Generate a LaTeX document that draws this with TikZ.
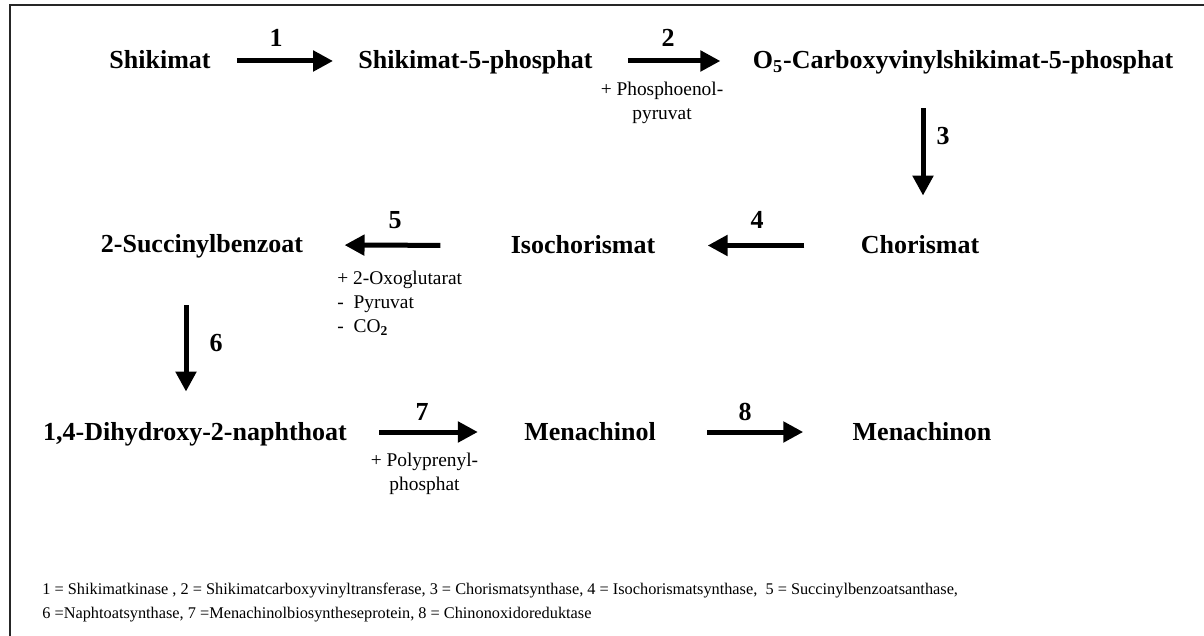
\documentclass[tikz,border=0pt]{standalone}
\usepackage{fontspec}
\setmainfont{Liberation Serif}
\usetikzlibrary{arrows.meta}
\begin{document}
\begin{tikzpicture}[x=0.5pt,y=-0.5pt,
  chem/.style={font=\fontsize{13}{15.6}\selectfont\bfseries, inner sep=0pt,
               text height=10pt, text depth=2pt, anchor=base},
  num/.style={font=\fontsize{13}{15.6}\selectfont\bfseries, inner sep=0pt, anchor=base},
  note/.style={font=\fontsize{9.7}{12}\selectfont, inner sep=0pt, align=center, anchor=base},
  notel/.style={font=\fontsize{9.7}{12}\selectfont, inner sep=0pt, align=left, anchor=base west},
  legend/.style={font=\fontsize{8.15}{12}\selectfont, inner sep=0pt, align=left, anchor=base west},
  rxn/.style={line width=2.5pt, -{Triangle[length=10pt,width=10pt]}},
  frame/.style={line width=1pt, draw=black!85},
]
\useasboundingbox (0,0) rectangle (1204,636);
\draw[frame] (1210,5) -- (10,5) -- (10,640);

% compounds
\node[chem] (shik)  at (160,69)    {Shikimat};
\node[chem] (s5p)   at (475.5,69)  {Shikimat-5-phosphat};
\node[chem] (cvs)   at (963,69)    {O\textsubscript{5}-Carboxyvinylshikimat-5-phosphat};
\node[chem] (chor)  at (920,253.5) {Chorismat};
\node[chem] (iso)   at (583,253.5) {Isochorismat};
\node[chem] (succ)  at (202,253)   {2-Succinylbenzoat};
\node[chem] (dhna)  at (195,440)   {1,4-Dihydroxy-2-naphthoat};
\node[chem] (mnol)  at (590,440)   {Menachinol};
\node[chem] (mnon)  at (922,440)   {Menachinon};

% reactions
\draw[rxn, shorten <=13pt, shorten >=12.5pt] (shik.east) -- (s5p.west);
\draw[rxn, shorten <=17.5pt, shorten >=16pt] (s5p.east) -- (cvs.west);
\draw[rxn, shorten <=17.5pt, shorten >=18.75pt] ([xshift=1.5pt]chor.north |- cvs.south) -- ([xshift=1.5pt]chor.north);
\draw[rxn, shorten <=28pt, shorten >=26pt] (chor.west) -- (iso.east);
\draw[rxn, shorten <=35pt, shorten >=20.5pt] (iso.west) -- (succ.east);
\draw[rxn, shorten <=24pt, shorten >=14pt] ([xshift=-8pt]succ.south) -- ([xshift=-8pt]succ.south |- dhna.north);
\draw[rxn, shorten <=16pt, shorten >=23pt] (dhna.east) -- (mnol.west);
\draw[rxn, shorten <=25.5pt, shorten >=24.5pt] (mnol.east) -- (mnon.west);

% step numbers
\node[num] (n1) at (276,47)  {1};
\node[num] (n2) at (668,47)  {2};
\node[num] (n3) at (943,145) {3};
\node[num] (n4) at (757,228) {4};
\node[num] (n5) at (395,228) {5};
\node[num] (n6) at (216,351) {6};
\node[num] (n7) at (422,420) {7};
\node[num] (n8) at (745,420) {8};

% co-substrates (base anchor = baseline of the last line)
\node[note] (pep) at (662,120) {+ Phosphoenol-\\pyruvat};
\node[notel] (oxo) at (337,332) {+ 2-Oxoglutarat\\-\ \ Pyruvat\\-\ \ CO\textsubscript{\textbf{2}}};
\node[note] (ppp) at (424.5,490) {+ Polyprenyl-\\phosphat};

% legend
\node[legend] (leg) at (42,618) {1 = Shikimatkinase , 2 = Shikimatcarboxyvinyltransferase, 3 = Chorismatsynthase, 4 = Isochorismatsynthase,\ \ 5 = Succinylbenzoatsanthase,\\6 =Naphtoatsynthase, 7 =Menachinolbiosyntheseprotein, 8 = Chinonoxidoreduktase};
\end{tikzpicture}
\end{document}
